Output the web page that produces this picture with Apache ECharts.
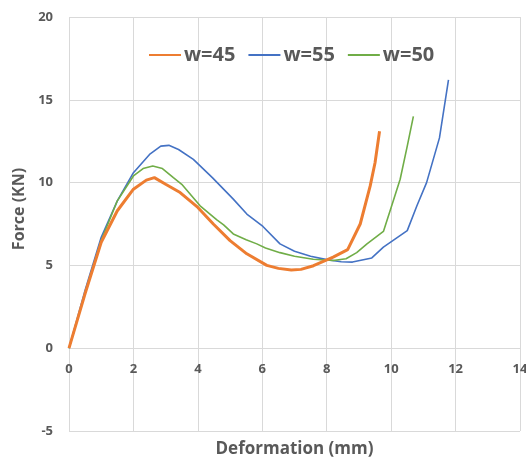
<!DOCTYPE html>
<html>
<head>
<meta charset="utf-8">
<script src="https://cdn.jsdelivr.net/npm/echarts@6/dist/echarts.min.js"></script>
<style>
  html, body { margin: 0; padding: 0; background: #fff; }
  #chart { width: 526px; height: 458px; }
</style>
</head>
<body>
<div id="chart"></div>
<script>
// Force–deformation curves for three widths (x: mm, y: kN)
const seriesNames = ['w=45', 'w=55', 'w=50'];

const w45 = [
  [0, 0], [0.5, 3.3], [1, 6.4], [1.5, 8.3], [2, 9.6], [2.4, 10.15], [2.65, 10.3],
  [3, 9.9], [3.45, 9.4], [4, 8.5], [4.48, 7.5], [5, 6.5], [5.52, 5.7], [6.14, 5.0],
  [6.5, 4.82], [6.9, 4.72], [7.2, 4.76], [7.59, 4.98], [8.2, 5.5], [8.65, 5.95],
  [9.04, 7.5], [9.35, 9.8], [9.5, 11.2], [9.64, 13.1]
];

const w55 = [
  [0, 0], [0.5, 3.5], [1, 6.7], [1.5, 8.9], [2, 10.6], [2.5, 11.7], [2.85, 12.2],
  [3.1, 12.25], [3.4, 12.0], [3.86, 11.4], [4.45, 10.3], [5.1, 9.0], [5.52, 8.1],
  [6.02, 7.35], [6.55, 6.3], [7.0, 5.85], [7.5, 5.55], [8.0, 5.35], [8.45, 5.22],
  [8.8, 5.2], [9.4, 5.45], [9.76, 6.1], [10.5, 7.1], [10.8, 8.6], [11.1, 10.0],
  [11.5, 12.7], [11.78, 16.2]
];

const w50 = [
  [0, 0], [0.5, 3.3], [1, 6.5], [1.5, 8.9], [2, 10.4], [2.3, 10.85], [2.6, 11.0],
  [2.9, 10.85], [3.24, 10.3], [3.5, 9.9], [4.07, 8.6], [4.59, 7.75], [4.8, 7.45],
  [5.1, 6.9], [5.5, 6.55], [5.83, 6.3], [6.1, 6.05], [6.55, 5.77], [7.0, 5.55],
  [7.58, 5.37], [8.2, 5.3], [8.6, 5.4], [8.93, 5.77], [9.25, 6.3], [9.76, 7.05],
  [10.0, 8.5], [10.28, 10.2], [10.5, 12.2], [10.69, 14.0]
];

const xTicks = { min: 0, max: 14, step: 2 };
const yTicks = { min: -5, max: 20, step: 5 };

const textGrey = '#595959';
const gridGrey = '#D9D9D9';
const fontFamily = '"Open Sans", "Liberation Sans", sans-serif';

const chart = echarts.init(document.getElementById('chart'));

chart.setOption({
  animation: false,
  backgroundColor: '#ffffff',
  grid: { left: 69, right: 6, top: 17, bottom: 27, containLabel: false, outerBoundsMode: 'none' },
  legend: {
    top: 40,
    left: 143,
    itemWidth: 32,
    itemHeight: 14,
    itemGap: 12,
    itemStyle: { opacity: 0 },
    textStyle: { color: textGrey, fontSize: 20, fontWeight: 'bold', fontFamily, padding: [0, 0, 0, -2] }
  },
  xAxis: {
    type: 'value',
    min: xTicks.min,
    max: xTicks.max,
    interval: xTicks.step,
    name: 'Deformation (mm)',
    nameLocation: 'middle',
    nameGap: 92,
    nameTextStyle: { color: textGrey, fontSize: 17, fontWeight: 'bold', fontFamily },
    axisLine: { onZero: false, lineStyle: { color: gridGrey, width: 1 } },
    axisTick: { show: false },
    axisLabel: { color: textGrey, fontSize: 13, fontWeight: 'bold', fontFamily, margin: 15 },
    splitLine: { show: true, lineStyle: { color: gridGrey, width: 1 } }
  },
  yAxis: {
    type: 'value',
    min: yTicks.min,
    max: yTicks.max,
    interval: yTicks.step,
    name: 'Force (KN)',
    nameLocation: 'middle',
    nameGap: 41,
    nameTextStyle: { color: textGrey, fontSize: 16, fontWeight: 'bold', fontFamily, padding: [0, 0, 0, 30] },
    axisLine: { show: false },
    axisTick: { show: false },
    axisLabel: { color: textGrey, fontSize: 13, fontWeight: 'bold', fontFamily, margin: 16 },
    splitLine: { show: true, lineStyle: { color: gridGrey, width: 1 } }
  },
  series: [
    { name: seriesNames[0], type: 'line', data: w45, symbol: 'none', z: 3,
      itemStyle: { color: '#ED7D31' }, lineStyle: { color: '#ED7D31', width: 3 } },
    { name: seriesNames[1], type: 'line', data: w55, symbol: 'none', z: 2,
      itemStyle: { color: '#4472C4' }, lineStyle: { color: '#4472C4', width: 1.6 } },
    { name: seriesNames[2], type: 'line', data: w50, symbol: 'none', z: 2,
      itemStyle: { color: '#70AD47' }, lineStyle: { color: '#70AD47', width: 1.6 } }
  ]
});

// Put the horizontal axis (line, labels and title) on the y = 0 level,
// measured from the y scale itself.
const yZeroPx = chart.convertToPixel({ yAxisIndex: 0 }, 0);
const yMinPx = chart.convertToPixel({ yAxisIndex: 0 }, yTicks.min);
chart.setOption({ xAxis: { offset: yZeroPx - yMinPx } });
</script>
</body>
</html>
